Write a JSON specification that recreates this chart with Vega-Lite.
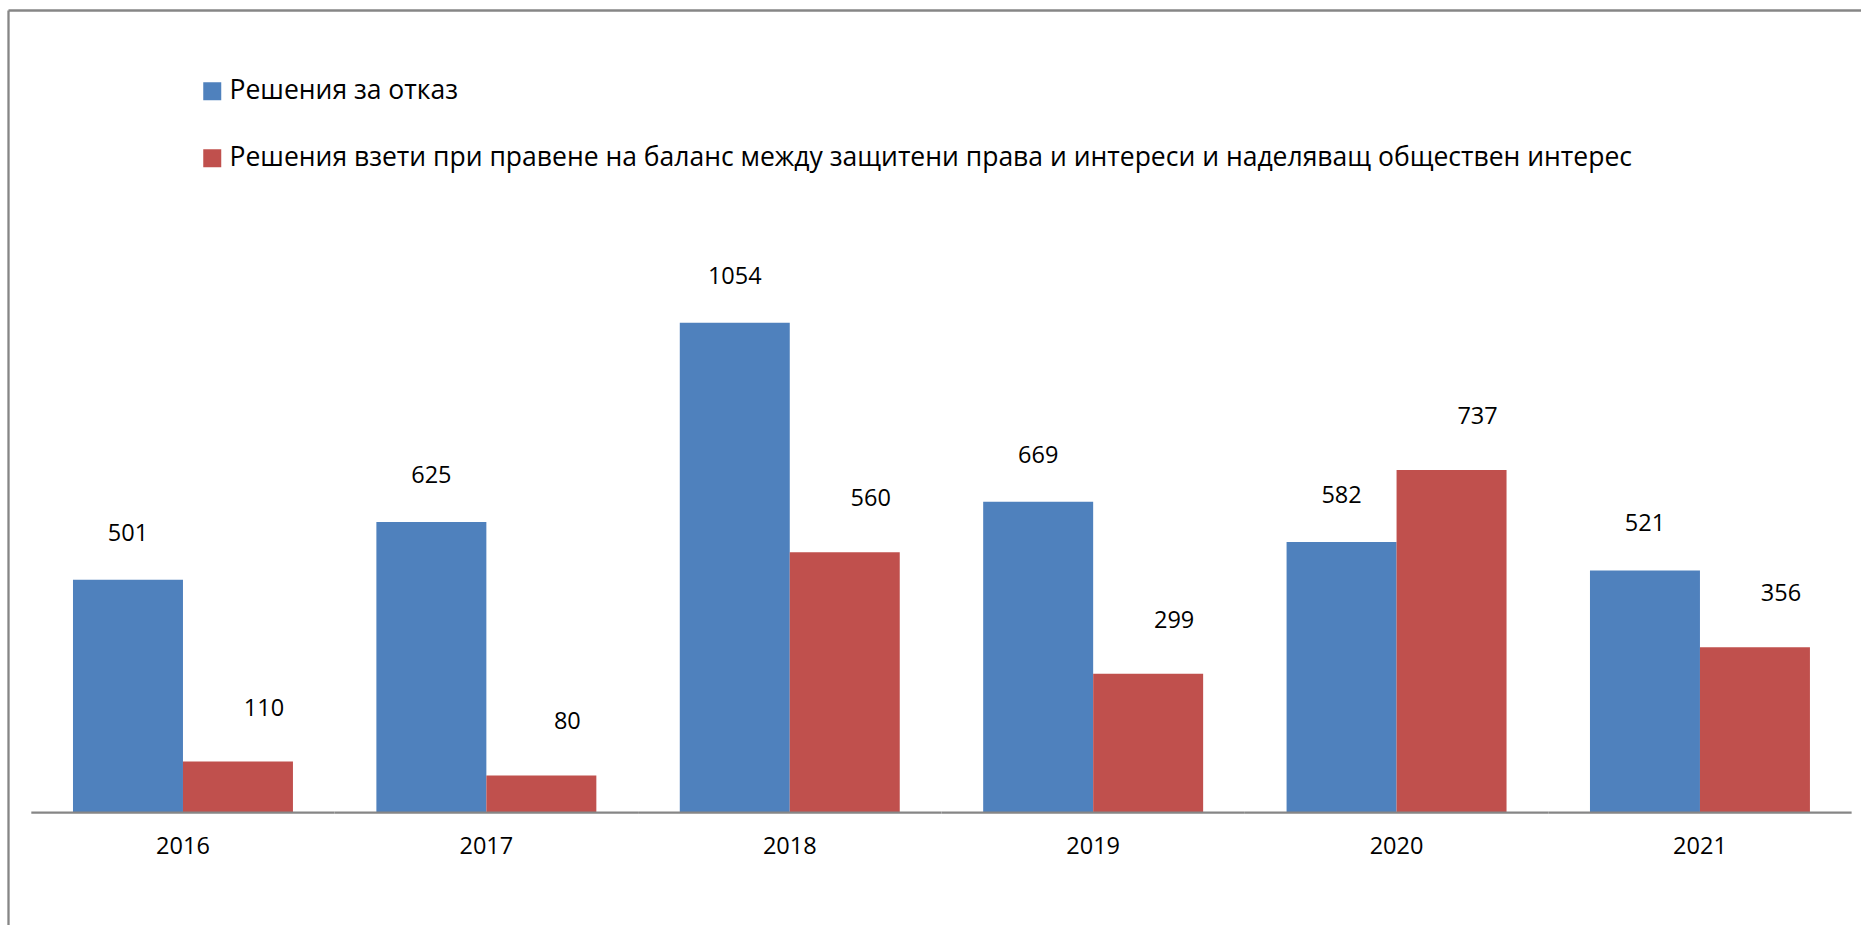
{
  "$schema": "https://vega.github.io/schema/vega-lite/v6.json",
  "width": 1853,
  "height": 915,
  "autosize": {"type": "none"},
  "padding": {"left": 8, "top": 10, "right": 0, "bottom": 0},
  "background": "white",
  "config": {"view": {"stroke": null}, "font": "Open Sans"},
  "data": {
    "values": [
      {"year": "2016", "series": "Решения за отказ", "value": 501},
      {"year": "2016", "series": "Решения взети  при правене на баланс между защитени права и интереси и наделяващ обществен интерес", "value": 110},
      {"year": "2017", "series": "Решения за отказ", "value": 625},
      {"year": "2017", "series": "Решения взети  при правене на баланс между защитени права и интереси и наделяващ обществен интерес", "value": 80},
      {"year": "2018", "series": "Решения за отказ", "value": 1054},
      {"year": "2018", "series": "Решения взети  при правене на баланс между защитени права и интереси и наделяващ обществен интерес", "value": 560},
      {"year": "2019", "series": "Решения за отказ", "value": 669},
      {"year": "2019", "series": "Решения взети  при правене на баланс между защитени права и интереси и наделяващ обществен интерес", "value": 299},
      {"year": "2020", "series": "Решения за отказ", "value": 582},
      {"year": "2020", "series": "Решения взети  при правене на баланс между защитени права и интереси и наделяващ обществен интерес", "value": 737},
      {"year": "2021", "series": "Решения за отказ", "value": 521},
      {"year": "2021", "series": "Решения взети  при правене на баланс между защитени права и интереси и наделяващ обществен интерес", "value": 356}
    ]
  },
  "layer": [
    {
      "mark": {"type": "bar"},
      "encoding": {
        "x": {
          "field": "year", "type": "nominal",
          "scale": {"paddingInner": 0.275, "paddingOuter": 0.19125, "align": 0.56},
          "axis": {"orient": "top", "domain": true, "domainColor": "#868686", "domainWidth": 2.3, "ticks": false, "labels": false, "grid": false, "title": null}
        },
        "xOffset": {
          "field": "series", "type": "nominal",
          "scale": {"domain": ["Решения за отказ", "Решения взети  при правене на баланс между защитени права и интереси и наделяващ обществен интерес"], "paddingInner": 0, "paddingOuter": 0}
        },
        "y": {
          "field": "value", "type": "quantitative",
          "scale": {"domain": [-241.6, 1726.6], "nice": false, "zero": false},
          "axis": {"orient": "left", "domain": true, "domainColor": "#868686", "domainWidth": 2.3, "ticks": false, "labels": false, "grid": false, "title": null}
        },
        "y2": {"datum": 0},
        "color": {
          "field": "series", "type": "nominal",
          "scale": {"domain": ["Решения за отказ", "Решения взети  при правене на баланс между защитени права и интереси и наделяващ обществен интерес"], "range": ["#4F81BD", "#C0504D"]},
          "legend": {
            "orient": "none", "legendX": 191, "legendY": 68, "direction": "vertical",
            "title": null, "padding": 0, "symbolType": "square", "symbolSize": 324, "symbolStrokeWidth": 0,
            "labelFont": "Open Sans", "labelFontSize": 26.5, "labelColor": "black", "labelLimit": 3000,
            "labelOffset": 4, "rowPadding": 40
          }
        }
      }
    },
    {
      "transform": [{"filter": "datum.series === 'Решения за отказ'"}],
      "mark": {"type": "rule", "color": "#868686", "strokeWidth": 2.3},
      "encoding": {
        "x": {"field": "year", "type": "nominal", "bandPosition": -0.1895},
        "x2": {"field": "year", "bandPosition": 1.1895},
        "y": {"datum": 0}
      }
    },
    {
      "transform": [{"filter": "datum.series === 'Решения за отказ'"}],
      "mark": {"type": "text", "fontSize": 23.5, "font": "Open Sans", "color": "black", "baseline": "middle", "dy": -46},
      "encoding": {
        "x": {"field": "year", "type": "nominal"},
        "xOffset": {"field": "series", "type": "nominal"},
        "y": {"field": "value", "type": "quantitative"},
        "text": {"field": "value", "type": "quantitative"}
      }
    },
    {
      "transform": [{"filter": "datum.series !== 'Решения за отказ'"}],
      "mark": {"type": "text", "fontSize": 23.5, "font": "Open Sans", "color": "black", "baseline": "middle", "dy": -53, "dx": 26},
      "encoding": {
        "x": {"field": "year", "type": "nominal"},
        "xOffset": {"field": "series", "type": "nominal"},
        "y": {"field": "value", "type": "quantitative"},
        "text": {"field": "value", "type": "quantitative"}
      }
    },
    {
      "transform": [{"filter": "datum.series === 'Решения за отказ'"}],
      "mark": {"type": "text", "fontSize": 23.5, "font": "Open Sans", "color": "black", "baseline": "middle", "dy": 34},
      "encoding": {
        "x": {"field": "year", "type": "nominal"},
        "y": {"datum": 0},
        "text": {"field": "year", "type": "nominal"}
      }
    }
  ]
}
